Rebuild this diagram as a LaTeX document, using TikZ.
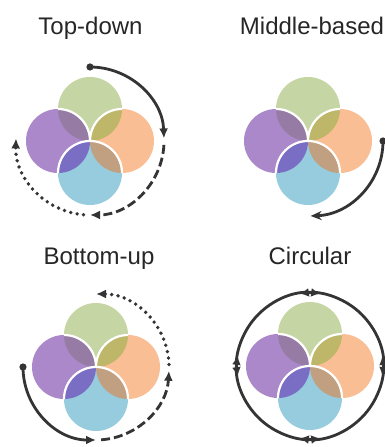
\documentclass[tikz,border=0pt]{standalone}
\usepackage{fontspec}
\setmainfont{Liberation Sans}
\usetikzlibrary{arrows.meta}

\definecolor{petalgreen}{RGB}{198,213,164}
\definecolor{petalpurple}{RGB}{170,136,201}
\definecolor{petalorange}{RGB}{250,190,148}
\definecolor{petalblue}{RGB}{150,204,222}
\definecolor{mixgp}{RGB}{150,124,165}
\definecolor{mixgo}{RGB}{190,182,104}
\definecolor{mixob}{RGB}{192,160,128}
\definecolor{mixpb}{RGB}{122,110,196}
\definecolor{arrowgray}{RGB}{52,52,52}

% four overlapping petals around a centre coordinate
\newcommand{\pinwheel}[1]{%
  \begin{scope}[shift={(#1)}]
    \fill[petalgreen] (0,32) circle (32);
    \fill[petalpurple] (-32,0) circle (32);
    \fill[petalorange] (32,0) circle (32);
    \fill[petalblue] (0,-32) circle (32);
    \fill[mixgp] (0,0) arc[start angle=0,end angle=90,radius=32] arc[start angle=180,end angle=270,radius=32] -- cycle;
    \fill[mixgo] (0,0) arc[start angle=-90,end angle=0,radius=32] arc[start angle=90,end angle=180,radius=32] -- cycle;
    \fill[mixob] (0,0) arc[start angle=180,end angle=270,radius=32] arc[start angle=0,end angle=90,radius=32] -- cycle;
    \fill[mixpb] (0,0) arc[start angle=0,end angle=-90,radius=32] arc[start angle=180,end angle=90,radius=32] -- cycle;
    \draw[petaledge] (32,32) arc[start angle=90,end angle=180,radius=32];
    \draw[petaledge] (0,0) arc[start angle=0,end angle=90,radius=32];
    \draw[petaledge] (32,-32) arc[start angle=0,end angle=180,radius=32];
  \end{scope}}

\begin{document}
\begin{tikzpicture}[x=1pt, y=1pt,
    title/.style={font=\fontsize{24}{28}\selectfont, text=black!85, anchor=base, inner sep=0},
    petaledge/.style={draw=white, line width=2.2},
    flow/.style={draw=arrowgray, line width=2.8},
    dashflow/.style={flow, dash pattern=on 9pt off 4pt},
    dotflow/.style={flow, line width=3.8, dash pattern=on 0pt off 6.5pt, line cap=round},
    tip/.style={-{Latex[length=10pt,width=9pt]}},
    bothtips/.style={{Latex[length=9pt,width=9pt]}-{Latex[length=9pt,width=9pt]}}]
  \fill[white] (0,0) rectangle (385,447);
  \useasboundingbox (0,0) rectangle (385,447);

  \coordinate (td) at (90,306);
  \coordinate (mb) at (308,306);
  \coordinate (bu) at (96,80);
  \coordinate (ci) at (310,81);

  \node[title] (tdlabel) at (90.5,412) {Top-down};
  \node[title] (mblabel) at (312,412) {Middle-based};
  \node[title] (bulabel) at (99,182) {Bottom-up};
  \node[title] (cilabel) at (310,182) {Circular};

  \pinwheel{td}
  \pinwheel{mb}
  \pinwheel{bu}
  \pinwheel{ci}

  % top-down: clockwise from the top
  \fill[arrowgray] ([shift={(90:74)}]td) circle (3.6);
  \draw[flow, tip] ([shift={(90:74)}]td) arc[start angle=90, end angle=2, radius=74];
  \draw[dashflow, tip] ([shift={(-3:74)}]td) arc[start angle=-3, end angle=-90, radius=74];
  \draw[dotflow, tip] ([shift={(-95:74)}]td) arc[start angle=-95, end angle=-182, radius=74];

  % middle-based
  \fill[arrowgray] ([shift={(0:75)}]mb) circle (3.6);
  \draw[flow, -{Stealth[length=11pt,width=9pt]}] ([shift={(0:75)}]mb) arc[start angle=0, end angle=-88, radius=75];

  % bottom-up: counter-clockwise from the left
  \fill[arrowgray] ([shift={(180:73)}]bu) circle (3.6);
  \draw[flow, tip] ([shift={(180:73)}]bu) arc[start angle=180, end angle=270, radius=73];
  \draw[dashflow, tip] ([shift={(274:73)}]bu) arc[start angle=274, end angle=357, radius=73];
  \draw[dotflow, tip] ([shift={(2:73)}]bu) arc[start angle=2, end angle=90, radius=73];

  % circular
  \foreach \a in {0,90,180,270}
    \draw[flow, bothtips] ([shift={(\a-8:73)}]ci) arc[start angle=\a-8, end angle=\a+98, radius=73];
\end{tikzpicture}
\end{document}
